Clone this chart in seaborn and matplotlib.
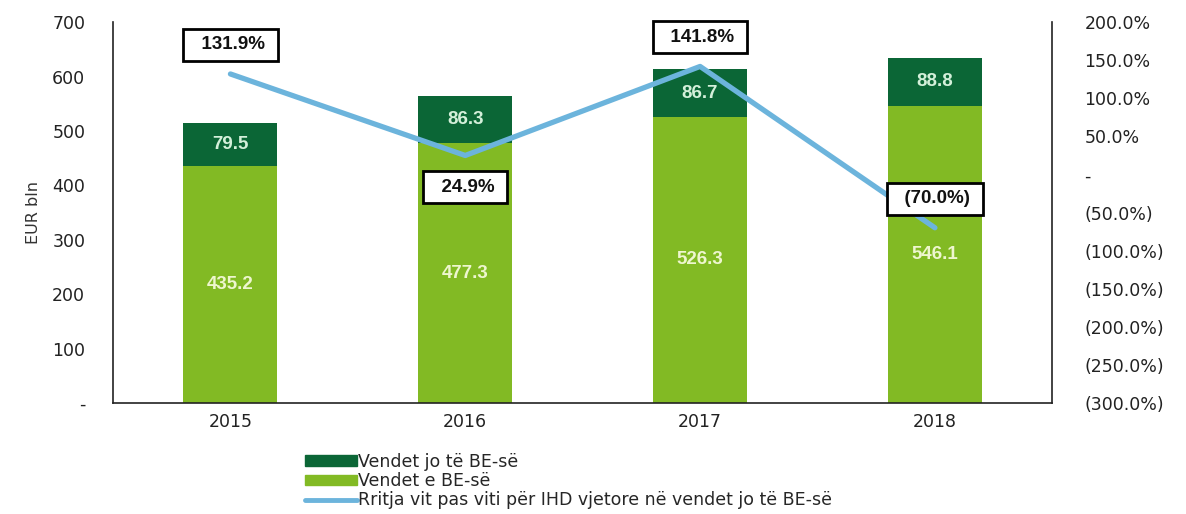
import numpy as np
import pandas as pd
import seaborn as sns
import matplotlib.pyplot as plt
from matplotlib.patches import Patch
from matplotlib.lines import Line2D

years = ['2015', '2016', '2017', '2018']
eu = [435.2, 477.3, 526.3, 546.1]
non_eu = [79.5, 86.3, 86.7, 88.8]
growth = [131.9, 24.9, 141.8, -70.0]
label_side = ['above', 'below', 'above', 'above']

dark_green = '#0b6636'
light_green = '#82ba24'
blue = '#6cb4dc'

sns.set_style('white')
plt.rcParams['font.family'] = ['DejaVu Sans']

df = pd.DataFrame({'year': years, 'eu': eu, 'non_eu': non_eu})
df['total'] = df['eu'] + df['non_eu']

fig = plt.figure(figsize=(11.86, 5.14), dpi=100)
ax = fig.add_axes([0.0953, 0.216, 0.792, 0.741])

sns.barplot(data=df, x='year', y='total', color=dark_green, width=0.4,
            saturation=1, linewidth=0, ax=ax)
sns.barplot(data=df, x='year', y='eu', color=light_green, width=0.4,
            saturation=1, linewidth=0, ax=ax)

narrow = ['Liberation Sans Narrow', 'Liberation Sans', 'DejaVu Sans']
for i, row in df.iterrows():
    ax.text(i, row['eu'] / 2, f"{row['eu']:.1f}", ha='center', va='center',
            color='#eef6cf', fontsize=13.5, fontweight='bold', family=narrow)
    ax.text(i, row['eu'] + row['non_eu'] / 2, f"{row['non_eu']:.1f}",
            ha='center', va='center', color='#d4f0da', fontsize=13.5,
            fontweight='bold', family=narrow)

ax.set_ylim(0, 700)
ax.set_xlim(-0.5, 3.5)
ax.set_yticks(range(0, 701, 100))
ax.set_yticklabels(['-'] + [str(v) for v in range(100, 701, 100)])
ax.set_xlabel('')
ax.set_ylabel('EUR bln', fontsize=11.5, color='#333333', labelpad=8)
ax.tick_params(axis='y', length=0, pad=20, labelsize=12.5, labelcolor='#222222')
ax.tick_params(axis='x', length=0, pad=7, labelsize=12.5, labelcolor='#222222')
for s in ['top', 'right']:
    ax.spines[s].set_visible(False)
for s in ['left', 'bottom']:
    ax.spines[s].set_color('#222222')
    ax.spines[s].set_linewidth(1.2)

ax2 = ax.twinx()
sns.lineplot(x=np.arange(len(years)), y=growth, color=blue, linewidth=3.8,
             ax=ax2)
ax2.set_ylim(-300, 200)
ax2.set_yticks(range(-300, 201, 50))


def pct(v):
    if v == 0:
        return '-'
    if v < 0:
        return f'({-v:.1f}%)'
    return f'{v:.1f}%'


ax2.set_yticklabels([pct(v) for v in range(-300, 201, 50)])
ax2.tick_params(axis='y', length=0, pad=23, labelsize=12.5, labelcolor='#222222')
for s in ['top', 'left', 'bottom']:
    ax2.spines[s].set_visible(False)
ax2.spines['right'].set_color('#222222')
ax2.spines['right'].set_linewidth(1.2)

for i, g in enumerate(growth):
    off = 21 if label_side[i] == 'above' else -23
    ax2.annotate('  ' + pct(g) + ' ', (i, g), xytext=(0, off),
                 textcoords='offset points', ha='center', va='center',
                 fontsize=13.5, fontweight='bold', family=narrow,
                 color='#111111',
                 bbox=dict(boxstyle='square,pad=0.4', fc='white', ec='black',
                           lw=2))

handles = [Patch(color=dark_green, label='Vendet jo të BE-së'),
           Patch(color=light_green, label='Vendet e BE-së'),
           Line2D([0], [0], color=blue, lw=3.5,
                  label='Rritja vit pas viti për IHD vjetore në vendet jo të BE-së')]
fig.legend(handles=handles, loc='upper left', bbox_to_anchor=(0.251, 0.133),
           frameon=False, fontsize=12.5, handlelength=3.0, handleheight=0.55,
           handletextpad=0.1, labelspacing=0.08, borderaxespad=0)

fig.savefig('out.png', dpi=100)
